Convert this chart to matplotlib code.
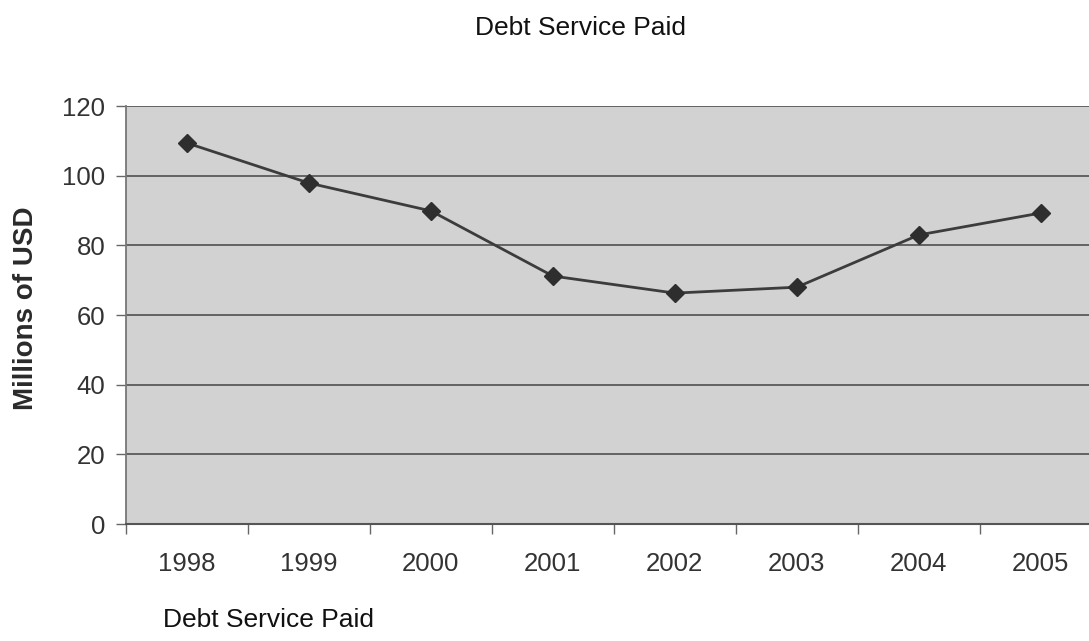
import numpy as np
import matplotlib
matplotlib.use("Agg")
from matplotlib import pyplot as plt

plt.rcParams['font.family'] = ['Liberation Sans', 'DejaVu Sans']

# Values
years = ["1998", "1999", "2000", "2001", "2002", "2003", "2004", "2005"]
debt_service = [109.4, 97.9, 89.9, 71.2, 66.3, 68.0, 83.0, 89.3]
y_ticks = [0, 20, 40, 60, 80, 100, 120]

fig = plt.figure(figsize=(10.89, 6.41), dpi=100)
# plot area runs past the right edge like in the scanned original
ax = fig.add_axes([0.1157, 0.1825, 0.896, 0.652])
ax.set_facecolor("#d2d2d2")

x = np.arange(len(years))
ax.plot(x, debt_service, color="#3c3c3c", linewidth=2.0,
        marker="D", markersize=9, markerfacecolor="#2e2e2e",
        markeredgecolor="#2e2e2e", zorder=3)

ax.set_xlim(-0.5, len(years) - 0.5)
ax.set_ylim(0, 120)
ax.set_yticks(y_ticks)
ax.set_yticklabels([str(v) for v in y_ticks])
ax.yaxis.grid(True, color="#5a5a5a", linewidth=1.3)
ax.set_axisbelow(True)

# category labels centred, tick marks between categories
ax.set_xticks(x)
ax.set_xticklabels(years)
ax.set_xticks(np.arange(-0.5, len(years), 1), minor=True)
ax.tick_params(axis="x", which="major", length=0, pad=20, labelsize=18.5, colors="#333333")
ax.tick_params(axis="x", which="minor", length=7, width=1, color="#666666")
ax.tick_params(axis="y", length=7, width=1, color="#666666", labelsize=18.5,
               labelcolor="#333333", pad=8)

for side in ["top", "right"]:
    ax.spines[side].set_visible(False)
ax.spines["left"].set_color("#777777")
ax.spines["left"].set_linewidth(1.3)
ax.spines["bottom"].set_color("#555555")
ax.spines["bottom"].set_linewidth(1.5)

ax.set_ylabel("Millions of USD", fontsize=20, fontweight="bold", color="#2a2a2a")
ax.yaxis.set_label_coords(-0.089, 0.517)

fig.text(0.5335, 0.956, "Debt Service Paid", ha="center", va="center", fontsize=19, color="#111111")
fig.text(0.150, 0.032, "Debt Service Paid", ha="left", va="center", fontsize=19, color="#111111")

plt.savefig("out.png", dpi=100)
